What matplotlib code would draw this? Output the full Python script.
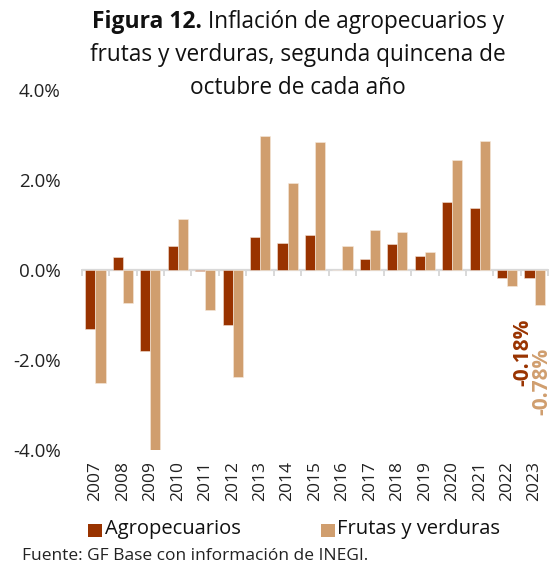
import numpy as np
import matplotlib.pyplot as plt
from matplotlib.patches import Rectangle

plt.rcParams['font.family'] = ['Open Sans', 'DejaVu Sans']

# Datos (inflacion anual, %)
years = ["2007", "2008", "2009", "2010", "2011", "2012", "2013", "2014", "2015",
         "2016", "2017", "2018", "2019", "2020", "2021", "2022", "2023"]
agro = [-1.32, 0.28, -1.79, 0.53, -0.03, -1.23, 0.74, 0.61, 0.78,
        0.01, 0.24, 0.58, 0.32, 1.51, 1.37, -0.18, -0.18]
frutas = [-2.52, -0.74, -4.0, 1.13, -0.89, -2.38, 2.98, 1.94, 2.84,
          0.54, 0.89, 0.85, 0.39, 2.44, 2.87, -0.36, -0.78]
series_names = ["Agropecuarios", "Frutas y verduras"]
yticks = [-4, -2, 0, 2, 4]

C_AGRO = "#993300"
C_FRUT = "#D09E6E"
GRAY = "#D9D9D9"
W, H = 553, 570

fig = plt.figure(figsize=(5.53, 5.70), dpi=100)
ax = fig.add_axes([81.7 / W, 1 - 450 / H, 466.6 / W, 360 / H])

x = np.arange(len(years))
w = 0.37
ax.bar(x - w / 2, agro, w, color=C_AGRO, edgecolor="#F3E2D6", linewidth=0.4, zorder=2)
ax.bar(x + w / 2, frutas, w, color=C_FRUT, edgecolor="#F6E9DC", linewidth=0.4, zorder=2)

ax.set_xlim(-0.5, len(years) - 0.5)
ax.set_ylim(-4, 4)
ax.set_yticks(yticks)
ax.set_yticklabels([f"{v:.1f}%" for v in yticks], fontsize=13.5, color="#222222")
ax.tick_params(axis="y", length=0, pad=15)

for s in ax.spines.values():
    s.set_visible(False)
ax.axhline(0, color=GRAY, lw=1.6, zorder=1)
# marcas de categoria bajo la linea cero
for b in np.arange(-0.5, len(years), 1.0):
    ax.plot([b, b], [0, -0.12], color=GRAY, lw=1.4, zorder=1, clip_on=False)

ax.set_xticks(x)
ax.set_xticklabels([])
ax.tick_params(axis="x", length=0)
for i, yr in enumerate(years):
    ax.text(i, -4.25, yr, rotation=90, ha="center", va="top", fontsize=12.5,
            color="#222222")

# etiquetas del ultimo dato
ax.text(15.56, -1.07, f"{agro[-1]:.2f}%", rotation=90, ha="center", va="top",
        fontsize=15, fontweight="bold", color=C_AGRO)
ax.text(16.27, -1.73, f"{frutas[-1]:.2f}%", rotation=90, ha="center", va="top",
        fontsize=15, fontweight="bold", color=C_FRUT)

# titulo con parte en negritas
fig.canvas.draw()
r = fig.canvas.get_renderer()
cx = 298 / W
tb = fig.text(0, 0, "Figura 12.", fontsize=16.5, fontweight="bold", color="#111111")
tr = fig.text(0, 0, " Inflación de agropecuarios y", fontsize=16.3, color="#111111")
wb = tb.get_window_extent(r).width / fig.bbox.width
wr = tr.get_window_extent(r).width / fig.bbox.width
x0 = cx - (wb + wr) / 2
y1 = 1 - 22 / H
tb.set_position((x0, y1)); tb.set_va("center")
tr.set_position((x0 + wb, y1)); tr.set_va("center")
fig.text(cx, 1 - 55 / H, "frutas y verduras, segunda quincena de", fontsize=16.3,
         ha="center", va="center", color="#111111")
fig.text(cx, 1 - 88 / H, "octubre de cada año", fontsize=16.3,
         ha="center", va="center", color="#111111")

# leyenda
for (sx, tx), name, col in zip([(88, 105), (321, 337)], series_names, [C_AGRO, C_FRUT]):
    fig.patches.append(Rectangle((sx / W, 1 - 537 / H), 14 / W, 13 / H,
                                 transform=fig.transFigure, facecolor=col, edgecolor="none"))
    fig.text(tx / W, 1 - 529 / H, name, fontsize=14.5, va="center", color="#111111")

fig.text(22 / W, 1 - 556 / H, "Fuente: GF Base con información de INEGI.",
         fontsize=12.5, va="center", color="#222222")

fig.savefig("out.png", dpi=100)
